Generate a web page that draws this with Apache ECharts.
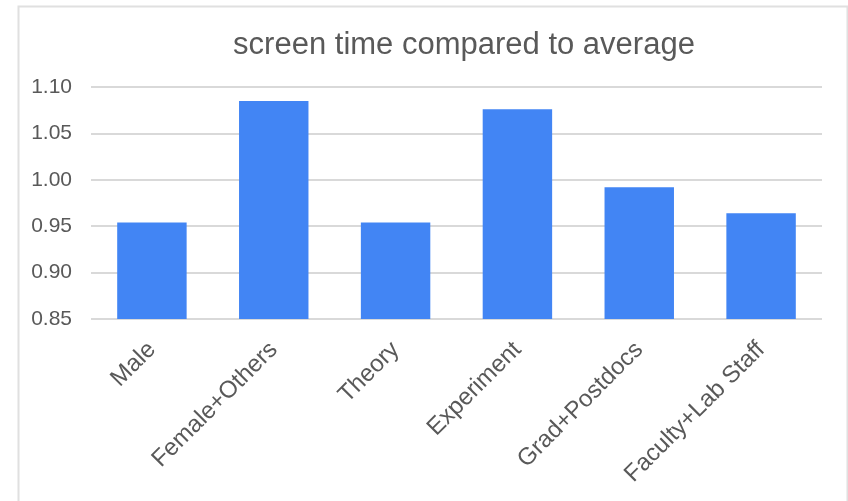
<!DOCTYPE html>
<html>
<head>
<meta charset="utf-8">
<script src="https://cdn.jsdelivr.net/npm/echarts@6/dist/echarts.min.js"></script>
<style>
  html, body { margin: 0; padding: 0; background: #fff; }
  #chart { width: 848px; height: 501px; }
</style>
</head>
<body>
<div id="chart"></div>
<script>
// Groups and their screen time relative to the overall average
const categories = ['Male', 'Female+Others', 'Theory', 'Experiment', 'Grad+Postdocs', 'Faculty+Lab Staff'];
const ratioValues = [0.954, 1.085, 0.954, 1.076, 0.992, 0.964];

// Value axis range and step
const yMin = 0.85;
const yMax = 1.10;
const yStep = 0.05;

const chartTitle = 'screen time compared to average';

const textColor = '#595959';
const fontFamily = '"Liberation Sans", Arial, Helvetica, sans-serif';

const chart = echarts.init(document.getElementById('chart'), null, { renderer: 'canvas' });

chart.setOption({
  backgroundColor: '#ffffff',
  animation: false,
  title: {
    text: chartTitle,
    left: 459,
    top: 25,
    textAlign: 'center',
    textStyle: {
      color: textColor,
      fontFamily: fontFamily,
      fontSize: 31,
      fontWeight: 'normal'
    }
  },
  graphic: [{
    type: 'rect',
    left: 16,
    top: 4,
    shape: { width: 829, height: 496 },
    style: { fill: 'none', stroke: '#e0e0e0', lineWidth: 2 },
    silent: true
  }],
  grid: {
    left: 91,
    right: 26,
    top: 87,
    bottom: 182,
    containLabel: false
  },
  xAxis: {
    type: 'category',
    data: categories,
    axisLine: { show: false },
    axisTick: { show: false },
    axisLabel: {
      rotate: 45,
      interval: 0,
      margin: 27,
      color: textColor,
      fontFamily: fontFamily,
      fontSize: 24
    }
  },
  yAxis: {
    type: 'value',
    min: yMin,
    max: yMax,
    interval: yStep,
    axisLine: { show: false },
    axisTick: { show: false },
    axisLabel: {
      margin: 19,
      color: textColor,
      fontFamily: fontFamily,
      fontSize: 21,
      formatter: v => v.toFixed(2)
    },
    splitLine: { lineStyle: { color: '#d9d9d9', width: 2 } }
  },
  series: [{
    type: 'bar',
    data: ratioValues,
    barCategoryGap: '43%',
    itemStyle: { color: '#4285f4' }
  }]
});
</script>
</body>
</html>
